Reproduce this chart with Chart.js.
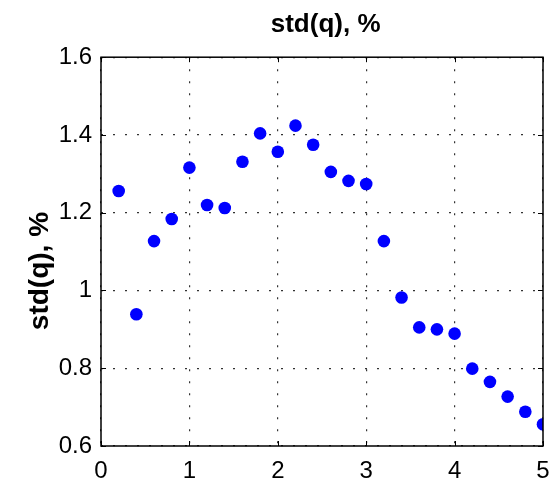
<!DOCTYPE html>
<html>
<head>
<meta charset="utf-8">
<script src="https://cdn.jsdelivr.net/npm/chart.js@4"></script>
<style>
  html, body { margin: 0; padding: 0; background: #fff; }
  #wrap { width: 556px; height: 480px; }
</style>
</head>
<body>
<div id="wrap"><canvas id="plot" width="556" height="480"></canvas></div>
<script>
// data
const xValues = [0.2, 0.4, 0.6, 0.8, 1.0, 1.2, 1.4, 1.6, 1.8, 2.0, 2.2, 2.4, 2.6,
                 2.8, 3.0, 3.2, 3.4, 3.6, 3.8, 4.0, 4.2, 4.4, 4.6, 4.8, 5.0];
const stdValues = [1.256, 0.939, 1.127, 1.184, 1.316, 1.220, 1.212, 1.331, 1.404, 1.357, 1.424, 1.375, 1.305,
                   1.282, 1.274, 1.127, 0.982, 0.905, 0.900, 0.889, 0.799, 0.765, 0.727, 0.688, 0.656];
const xTicks = [0, 1, 2, 3, 4, 5];
const yTicks = [0.6, 0.8, 1.0, 1.2, 1.4, 1.6];
const titleText = 'std(q), %';

const points = xValues.map((x, i) => ({ x: x, y: stdValues[i] }));
const fontFamily = 'Liberation Sans, Arial, sans-serif';

// box around the axes plus inward tick marks, matlab style
const boxPlugin = {
    id: 'box',
    afterDatasetsDraw(chart) {
        const { ctx, chartArea: a, scales } = chart;
        ctx.save();
        ctx.strokeStyle = '#000';
        ctx.lineWidth = 1.5;
        ctx.strokeRect(a.left, a.top, a.right - a.left, a.bottom - a.top);
        ctx.lineWidth = 1;
        ctx.beginPath();
        xTicks.forEach(v => {
            const px = Math.round(scales.x.getPixelForValue(v)) + 0.5;
            ctx.moveTo(px, a.bottom); ctx.lineTo(px, a.bottom - 5);
            ctx.moveTo(px, a.top); ctx.lineTo(px, a.top + 5);
        });
        yTicks.forEach(v => {
            const py = Math.round(scales.y.getPixelForValue(v)) + 0.5;
            ctx.moveTo(a.left, py); ctx.lineTo(a.left + 5, py);
            ctx.moveTo(a.right, py); ctx.lineTo(a.right - 5, py);
        });
        ctx.stroke();
        ctx.restore();
    }
};

const gridStyle = {
    drawTicks: false,
    color: '#333',
    lineWidth: 1.2
};
const dotted = { display: false, dash: [2, 10] };

new Chart(document.getElementById('plot').getContext('2d'), {
    type: 'scatter',
    data: {
        datasets: [{
            data: points,
            backgroundColor: '#0000ff',
            borderColor: '#0000ff',
            pointRadius: 6.3,
            pointHoverRadius: 6.3,
            borderWidth: 0
        }]
    },
    options: {
        responsive: false,
        animation: false,
        layout: { padding: { left: 0, right: 13, top: 0, bottom: 0 } },
        plugins: {
            legend: { display: false },
            tooltip: { enabled: false },
            title: {
                display: true,
                fullSize: false,
                text: ' ' + titleText,
                color: '#000',
                font: { family: fontFamily, size: 26, weight: 'bold', lineHeight: 1.2 },
                padding: { top: 9, bottom: 17 }
            }
        },
        scales: {
            x: {
                type: 'linear',
                min: 0,
                max: 5,
                afterFit(scale) {
                    scale.height = 34;
                    scale.paddingLeft = 0;
                    scale.paddingRight = 0;
                },
                afterBuildTicks(scale) { scale.ticks = xTicks.map(v => ({ value: v })); },
                grid: gridStyle,
                border: dotted,
                ticks: {
                    color: '#000',
                    padding: 11,
                    font: { family: fontFamily, size: 24 },
                    callback: v => String(v)
                }
            },
            y: {
                type: 'linear',
                min: 0.6,
                max: 1.6,
                afterFit(scale) { scale.width = 101; },
                afterBuildTicks(scale) { scale.ticks = yTicks.map(v => ({ value: v })); },
                grid: gridStyle,
                border: dotted,
                ticks: {
                    color: '#000',
                    padding: 9,
                    font: { family: fontFamily, size: 24 },
                    callback: v => (Math.abs(v - 1) < 1e-9 ? '1' : v.toFixed(1))
                },
                title: {
                    display: true,
                    text: titleText + '     ',
                    color: '#000',
                    font: { family: fontFamily, size: 28, weight: 'bold', lineHeight: 1.2 },
                    padding: { top: 23, bottom: 0 }
                }
            }
        }
    },
    plugins: [boxPlugin]
});
</script>
</body>
</html>
